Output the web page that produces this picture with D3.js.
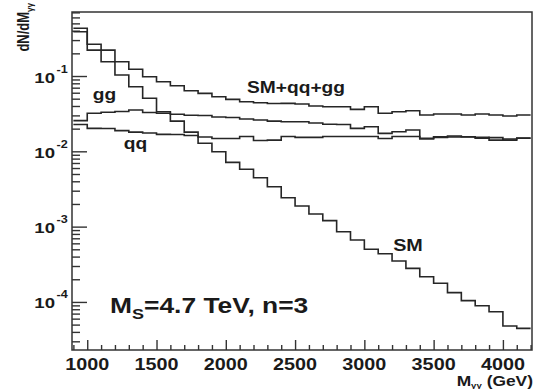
<!DOCTYPE html>
<html>
<head>
<meta charset="utf-8">
<script src="https://cdn.jsdelivr.net/npm/d3@7"></script>
<style>
  body { margin: 0; background: #fff; }
  text { font-family: "Liberation Sans", Arial, Helvetica, sans-serif; font-weight: bold; fill: #1a1a1a; }
</style>
</head>
<body>
<div id="chart"></div>
<script>
var svgWidth = 535;
var svgHeight = 389;

// frame of the plot (pixels)
var frame = { left: 72, right: 532, top: 12, bottom: 350 };

// histogram bins (lower edges, GeV)
var binLow = [900, 1000, 1100, 1200, 1300, 1400, 1500, 1600, 1700, 1800, 1900,
              2000, 2100, 2200, 2300, 2400, 2500, 2600, 2700, 2800, 2900,
              3000, 3100, 3200, 3300, 3400, 3500, 3600, 3700, 3800, 3900,
              4000, 4100];
var binWidth = 100;

// dN/dM values
var smValues = [0.387, 0.221, 0.155, 0.103, 0.0721, 0.0506, 0.0336, 0.0252, 0.0180, 0.0128, 0.00989,
                0.00714, 0.00577, 0.00446, 0.00339, 0.00242, 0.00188, 0.00147, 0.00120, 0.000855, 0.000664,
                0.000500, 0.000437, 0.000349, 0.000279, 0.000216, 0.000177, 0.000133, 0.000104, 0.0000891, 0.0000741,
                0.0000479, 0.0000446];
var ggValues = [0.0256, 0.0320, 0.0330, 0.0338, 0.0354, 0.0327, 0.0320, 0.0310, 0.0301, 0.0299, 0.0286,
                0.0281, 0.0269, 0.0261, 0.0252, 0.0247, 0.0247, 0.0238, 0.0229, 0.0227, 0.0202,
                0.0212, 0.0173, 0.0182, 0.0192, 0.0149, 0.0156, 0.0160, 0.0156, 0.0149, 0.0152,
                0.0141, 0.0149];
var qqValues = [0.0227, 0.0202, 0.0201, 0.0188, 0.0180, 0.0175, 0.0168, 0.0167, 0.0162, 0.0155, 0.0148,
                0.0148, 0.0157, 0.0139, 0.0141, 0.0157, 0.0153, 0.0153, 0.0157, 0.0157, 0.0157,
                0.0157, 0.0148, 0.0157, 0.0157, 0.0146, 0.0153, 0.0155, 0.0155, 0.0153, 0.0141,
                0.0146, 0.0150];
var totalValues = [0.430, 0.264, 0.221, 0.155, 0.123, 0.0979, 0.0840, 0.0743, 0.0636, 0.0589, 0.0531,
                   0.0490, 0.0456, 0.0442, 0.0431, 0.0433, 0.0425, 0.0400, 0.0391, 0.0391, 0.0361,
                   0.0391, 0.0320, 0.0336, 0.0346, 0.0303, 0.0313, 0.0313, 0.0303, 0.0313, 0.0303,
                   0.0294, 0.0303];

var xTickValues = [1000, 1500, 2000, 2500, 3000, 3500, 4000];
var yTickExponents = [-1, -2, -3, -4];

var svg = d3.select("#chart")
  .append("svg")
  .attr("width", svgWidth)
  .attr("height", svgHeight);

var x = d3.scaleLinear()
  .domain([890, 4210])
  .range([frame.left, frame.right]);

var y = d3.scaleLog()
  .domain([2.3e-5, 0.708])
  .range([frame.bottom, frame.top]);

// text is drawn a bit wider than tall, like the original
function label(px, py, anchor, size) {
  var g = svg.append("g").attr("transform", `translate(${px},${py}) scale(1.2,1)`);
  return g.append("text")
    .attr("text-anchor", anchor)
    .style("font-size", size + "px");
}

// minor / major ticks on x
var xMinor = d3.range(900, 4201, 100).filter(v => xTickValues.indexOf(v) < 0);
svg.append("g")
  .attr("transform", `translate(0,${frame.bottom})`)
  .call(d3.axisBottom(x).tickValues(xMinor).tickSize(-5).tickFormat(""))
  .call(g => g.select(".domain").remove());
svg.append("g")
  .attr("transform", `translate(0,${frame.bottom})`)
  .call(d3.axisBottom(x).tickValues(xTickValues).tickSize(-10).tickFormat(""))
  .call(g => g.select(".domain").remove());

// minor / major ticks on y
var yMinor = [];
[-5, -4, -3, -2, -1].forEach(e => {
  for (var m = 2; m <= 9; m++) {
    var v = m * Math.pow(10, e);
    if (v > y.domain()[0] && v < y.domain()[1]) yMinor.push(v);
  }
});
var yMajor = yTickExponents.map(e => Math.pow(10, e));
svg.append("g")
  .attr("transform", `translate(${frame.left},0)`)
  .call(d3.axisLeft(y).tickValues(yMinor).tickSize(-8).tickFormat(""))
  .call(g => g.select(".domain").remove());
svg.append("g")
  .attr("transform", `translate(${frame.left},0)`)
  .call(d3.axisLeft(y).tickValues(yMajor).tickSize(-15).tickFormat(""))
  .call(g => g.select(".domain").remove());

svg.selectAll(".tick line")
  .attr("stroke", "#333")
  .attr("stroke-width", 1.4);

// frame
svg.append("rect")
  .attr("x", frame.left)
  .attr("y", frame.top)
  .attr("width", frame.right - frame.left)
  .attr("height", frame.bottom - frame.top)
  .attr("fill", "none")
  .attr("stroke", "#333")
  .attr("stroke-width", 1.5);

// histograms
var line = d3.line()
  .x(d => x(d[0]))
  .y(d => y(d[1]))
  .curve(d3.curveStepAfter);

function stepPoints(values) {
  var pts = values.map((v, i) => [binLow[i], v]);
  pts.push([binLow[binLow.length - 1] + binWidth, values[values.length - 1]]);
  return pts;
}

[qqValues, ggValues, smValues, totalValues].forEach(vals => {
  svg.append("path")
    .datum(stepPoints(vals))
    .attr("d", line)
    .attr("fill", "none")
    .attr("stroke", "#262626")
    .attr("stroke-width", 1.6);
});

// x tick labels
xTickValues.forEach(v => {
  label(x(v), 370, "middle", 16.5).text(v);
});

// y tick labels 10^n
yTickExponents.forEach(e => {
  var ty = y(Math.pow(10, e));
  label(55, ty + 6.5, "end", 15.5).text("10");
  label(56.5, ty - 3.5, "start", 10.5).text(e);
});

// axis titles
var yt = svg.append("g")
  .attr("transform", "translate(29,3) scale(1.2,1) rotate(-90)")
  .append("text")
  .attr("text-anchor", "end")
  .style("font-size", "13px");
yt.append("tspan").text("dN/dM");
yt.append("tspan").attr("dy", 3).style("font-size", "8px").text("γγ");

var xt = label(533, 386, "end", 14.5);
xt.append("tspan").text("M");
xt.append("tspan").attr("dy", 2).style("font-size", "8px").text("γγ");
xt.append("tspan").attr("dy", -2).text(" (GeV)");

// curve labels
label(104.5, 99.5, "middle", 16).text("gg");
label(135.5, 148.5, "middle", 16).text("qq");
label(296, 92.5, "middle", 16).text("SM+qq+gg");
label(408, 251, "middle", 16.5).text("SM");

var ms = label(110, 313, "start", 22);
ms.append("tspan").text("M");
ms.append("tspan").attr("dy", 6).style("font-size", "15px").text("S");
ms.append("tspan").attr("dy", -6).text("=4.7 TeV, n=3");
</script>
</body>
</html>
